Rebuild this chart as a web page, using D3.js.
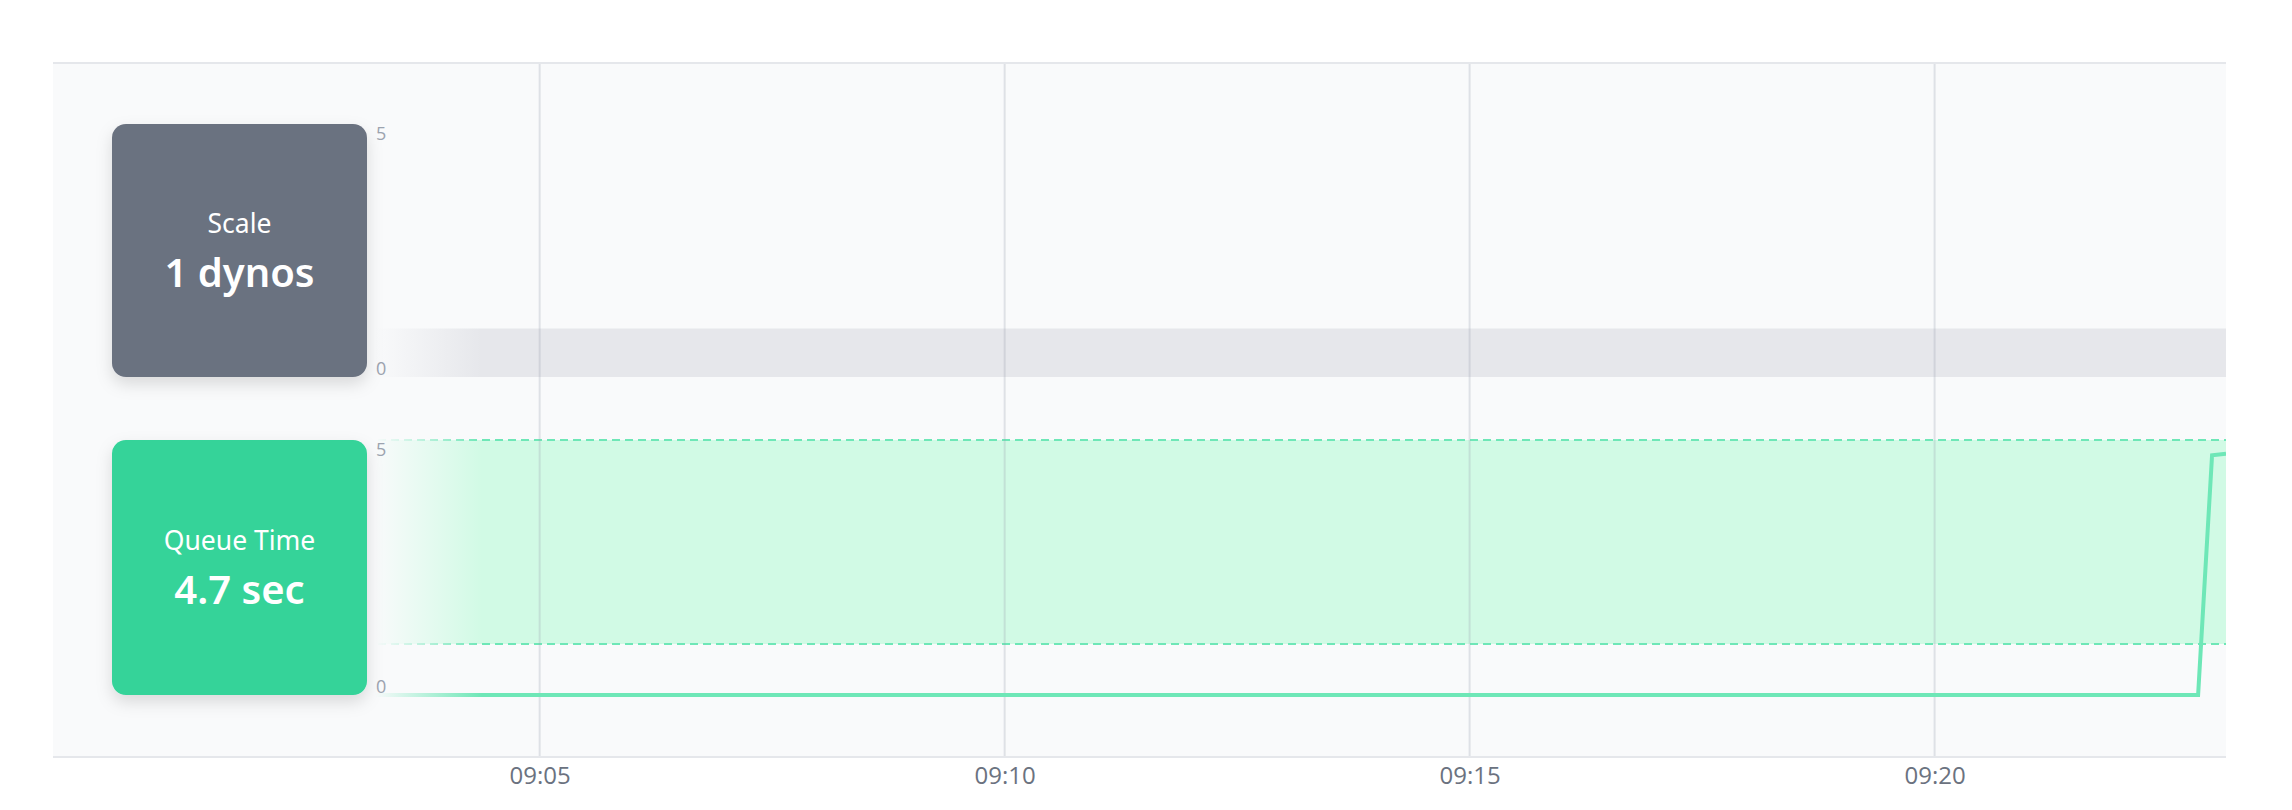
<!DOCTYPE html>
<html>
<head>
<meta charset="utf-8">
<script src="https://cdn.jsdelivr.net/npm/d3@7"></script>
<style>
  html, body { margin: 0; padding: 0; background: #ffffff; }
  svg { display: block; }
</style>
</head>
<body>
<svg id="chart" width="2292" height="810"></svg>
<script>
// ---------- data ----------
const day = "2024-01-01T";
const domainTimes = ["08:59:46", "09:23:08"];
const tickLabels = ["09:05", "09:10", "09:15", "09:20"];

// Scale (dynos) series
const scaleTimes = ["08:59:46", "09:05:00", "09:10:00", "09:15:00", "09:20:00", "09:23:08"];
const scaleValues = [1, 1, 1, 1, 1, 1];

// Queue time (sec) series
const queueTimes = ["08:59:46", "09:05:00", "09:10:00", "09:15:00", "09:20:00", "09:22:50", "09:22:59", "09:23:08"];
const queueValues = [0, 0, 0, 0, 0, 0, 4.7, 4.73];

// Queue target range (sec)
const queueTarget = [1, 5];
const yTicks = [0, 5];

const scaleLabel = "Scale", scaleCurrent = "1 dynos";
const queueLabel = "Queue Time", queueCurrent = "4.7 sec";

// ---------- layout ----------
const parse = t => new Date(day + t);
const panel = { x0: 53, x1: 2226, y0: 63, y1: 757 };
const cardX0 = 112, cardX1 = 367;

const svg = d3.select("#chart");
const defs = svg.append("defs");

const x = d3.scaleTime().domain(domainTimes.map(parse)).range([panel.x0, panel.x1]);
const yS = d3.scaleLinear().domain([0, 5]).range([377, 124]);
const yQ = d3.scaleLinear().domain([0, 5]).range([695, 440]);

// shadow filter
const f = defs.append("filter").attr("id", "shadow").attr("x", "-30%").attr("y", "-30%").attr("width", "160%").attr("height", "170%");
f.append("feDropShadow").attr("dx", 0).attr("dy", 7).attr("stdDeviation", 8).attr("flood-color", "#000").attr("flood-opacity", 0.13);

// fade gradient
const g = defs.append("linearGradient").attr("id", "fade").attr("gradientUnits", "userSpaceOnUse")
  .attr("x1", panel.x0).attr("x2", 482).attr("y1", 0).attr("y2", 0);
const stop1 = (375 - panel.x0) / (482 - panel.x0);
g.append("stop").attr("offset", 0).attr("stop-color", "#f9fafb").attr("stop-opacity", 1);
g.append("stop").attr("offset", stop1).attr("stop-color", "#f9fafb").attr("stop-opacity", 1);
g.append("stop").attr("offset", 1).attr("stop-color", "#f9fafb").attr("stop-opacity", 0);

svg.append("defs").append("clipPath").attr("id", "clip").append("rect")
  .attr("x", panel.x0).attr("y", panel.y0).attr("width", panel.x1 - panel.x0).attr("height", panel.y1 - panel.y0);

// panel background
svg.append("rect").attr("x", panel.x0).attr("y", panel.y0)
  .attr("width", panel.x1 - panel.x0).attr("height", panel.y1 - panel.y0).attr("fill", "#f9fafb");

const plot = svg.append("g").attr("clip-path", "url(#clip)");

// scale area
const sData = scaleTimes.map((t, i) => ({ t: parse(t), v: scaleValues[i] }));
plot.append("path").datum(sData)
  .attr("d", d3.area().x(d => x(d.t)).y0(yS(0)).y1(d => yS(d.v) + 2).curve(d3.curveStepAfter))
  .attr("fill", "#e6e7eb");

// queue target band
const xr = x.range();
plot.append("rect").attr("x", xr[0]).attr("width", xr[1] - xr[0])
  .attr("y", yQ(queueTarget[1])).attr("height", yQ(queueTarget[0]) - yQ(queueTarget[1]))
  .attr("fill", "#d1fae5");
queueTarget.forEach(v => {
  plot.append("line").attr("x1", xr[0]).attr("x2", xr[1]).attr("y1", yQ(v)).attr("y2", yQ(v))
    .attr("stroke", "#6ee7b7").attr("stroke-width", 2).attr("stroke-dasharray", "8,5");
});

// vertical grid lines
const tickDates = tickLabels.map(t => parse(t + ":00"));
plot.selectAll(".grid").data(tickDates).enter().append("line")
  .attr("x1", d => x(d)).attr("x2", d => x(d)).attr("y1", panel.y0).attr("y2", panel.y1)
  .attr("stroke", "#9aa3b0").attr("stroke-opacity", 0.28).attr("stroke-width", 2);

// queue line
const qData = queueTimes.map((t, i) => ({ t: parse(t), v: queueValues[i] }));
plot.append("path").datum(qData)
  .attr("d", d3.line().x(d => x(d.t)).y(d => yQ(d.v)))
  .attr("fill", "none").attr("stroke", "#6ee7b7").attr("stroke-width", 4).attr("stroke-linejoin", "miter");

// left fade overlay
svg.append("rect").attr("x", panel.x0).attr("y", panel.y0 + 1).attr("width", 482 - panel.x0)
  .attr("height", panel.y1 - panel.y0 - 2).attr("fill", "url(#fade)");

// panel borders
[panel.y0, panel.y1].forEach(yy => {
  svg.append("line").attr("x1", panel.x0).attr("x2", panel.x1).attr("y1", yy).attr("y2", yy)
    .attr("stroke", "#e5e7eb").attr("stroke-width", 2);
});

// y labels
function yLabels(scale) {
  yTicks.forEach(v => {
    svg.append("text").attr("x", 376)
      .attr("y", v === 0 ? scale(0) - 2 : scale(v) + 16)
      .attr("font-family", "'Open Sans', 'Noto Sans', sans-serif").attr("font-size", 18)
      .attr("fill", "#9ca3af").text(v);
  });
}
yLabels(yS);
yLabels(yQ);

// cards
function card(y0, y1, fill, label, value) {
  const gC = svg.append("g");
  gC.append("rect").attr("x", cardX0).attr("y", y0).attr("width", cardX1 - cardX0).attr("height", y1 - y0)
    .attr("rx", 14).attr("fill", fill).attr("filter", "url(#shadow)");
  const cx = (cardX0 + cardX1) / 2, cy = (y0 + y1) / 2;
  gC.append("text").attr("x", cx).attr("y", cy - 18).attr("text-anchor", "middle")
    .attr("font-family", "'Noto Sans', sans-serif").attr("font-size", 26.5).attr("fill", "#ffffff").text(label);
  gC.append("text").attr("x", cx).attr("y", cy + 36).attr("text-anchor", "middle")
    .attr("font-family", "'Noto Sans', sans-serif").attr("font-weight", 600).attr("font-size", 40)
    .attr("fill", "#ffffff").text(value);
}
card(yS(5), yS(0), "#6b7280", scaleLabel, scaleCurrent);
card(yQ(5), yQ(0), "#34d399", queueLabel, queueCurrent);

// x axis
const axis = d3.axisBottom(x).tickValues(tickDates).tickFormat(d3.timeFormat("%H:%M")).tickSize(0).tickPadding(0);
const ax = svg.append("g").attr("transform", `translate(0,${panel.y1})`).call(axis);
ax.select(".domain").remove();
ax.selectAll("text").attr("dy", null).attr("y", 27)
  .attr("font-family", "'Open Sans', 'Noto Sans', sans-serif").attr("font-size", 24).attr("fill", "#6b7280");
</script>
</body>
</html>
